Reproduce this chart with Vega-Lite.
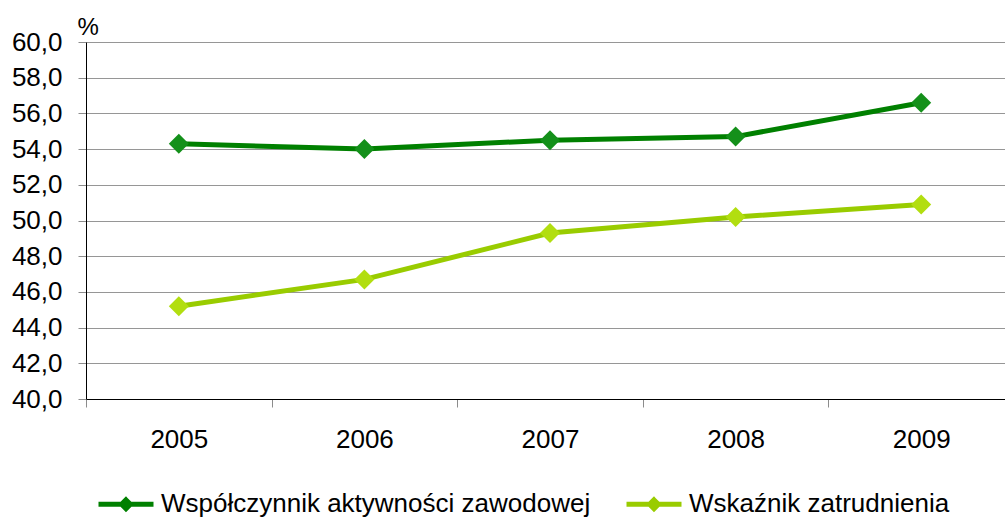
{
  "$schema": "https://vega.github.io/schema/vega-lite/v6.json",
  "autosize": {"type": "none"},
  "padding": {"left": 86, "top": 42, "right": 0, "bottom": 118},
  "width": 928,
  "height": 357,
  "background": "white",
  "config": {
    "view": {"stroke": null},
    "font": "Liberation Sans",
    "axis": {"labelFont": "Liberation Sans", "labelFontSize": 26, "labelColor": "#000000", "titleFont": "Liberation Sans", "titleFontWeight": "normal", "titleColor": "#000000"},
    "legend": {"labelFont": "Liberation Sans", "labelFontSize": 26, "labelColor": "#000000", "labelLimit": 0}
  },
  "data": {
    "values": [
      {"year": "2005", "series": "Współczynnik aktywności zawodowej", "value": 54.3},
      {"year": "2006", "series": "Współczynnik aktywności zawodowej", "value": 54.0},
      {"year": "2007", "series": "Współczynnik aktywności zawodowej", "value": 54.5},
      {"year": "2008", "series": "Współczynnik aktywności zawodowej", "value": 54.7},
      {"year": "2009", "series": "Współczynnik aktywności zawodowej", "value": 56.6},
      {"year": "2005", "series": "Wskaźnik zatrudnienia", "value": 45.2},
      {"year": "2006", "series": "Wskaźnik zatrudnienia", "value": 46.7},
      {"year": "2007", "series": "Wskaźnik zatrudnienia", "value": 49.3},
      {"year": "2008", "series": "Wskaźnik zatrudnienia", "value": 50.2},
      {"year": "2009", "series": "Wskaźnik zatrudnienia", "value": 50.9}
    ]
  },
  "encoding": {
    "x": {
      "field": "year", "type": "ordinal",
      "scale": {"type": "band", "paddingInner": 0, "paddingOuter": 0},
      "axis": {"title": null, "labelAngle": 0, "tickBand": "extent", "tickSize": 8, "tickColor": "#8c8c8c", "domainColor": "#000000", "labelPadding": 19, "grid": false}
    },
    "y": {
      "field": "value", "type": "quantitative",
      "scale": {"domain": [40, 60], "nice": false, "zero": false},
      "axis": {
        "values": [40, 42, 44, 46, 48, 50, 52, 54, 56, 58, 60],
        "labelExpr": "replace(format(datum.value, '.1f'), '.', ',')",
        "title": "%", "titleAngle": 0, "titleFontSize": 24, "titleAlign": "left", "titleBaseline": "alphabetic", "titleX": -9, "titleY": -8,
        "tickSize": 8, "tickColor": "#8c8c8c", "gridColor": "#969696", "domainColor": "#000000", "labelPadding": 16, "grid": true
      }
    }
  },
  "layer": [
    {
      "mark": {"type": "line", "strokeWidth": 5},
      "encoding": {
        "color": {
          "field": "series", "type": "nominal",
          "scale": {"domain": ["Współczynnik aktywności zawodowej", "Wskaźnik zatrudnienia"], "range": ["#008000", "#99CC00"]},
          "legend": {
            "title": null, "orient": "none", "direction": "horizontal", "legendX": 10, "legendY": 432,
            "padding": 0, "columnPadding": 25, "labelOffset": 5, "labelLimit": 0,
            "symbolType": "M-1,0L1,0M0,-0.16L0.16,0L0,0.16L-0.16,0Z",
            "symbolSize": 3025, "symbolStrokeWidth": 5,
            "encode": {"symbols": {"update": {"fill": {"scale": "color", "field": "value"}, "stroke": {"scale": "color", "field": "value"}, "opacity": {"value": 1}}}}
          }
        }
      }
    },
    {
      "mark": {"type": "point", "shape": "diamond", "size": 400, "filled": true, "opacity": 1},
      "encoding": {
        "fill": {
          "field": "series", "type": "nominal",
          "scale": {"domain": ["Współczynnik aktywności zawodowej", "Wskaźnik zatrudnienia"], "range": ["#14901a", "#b2de10"]},
          "legend": null
        }
      }
    }
  ]
}
